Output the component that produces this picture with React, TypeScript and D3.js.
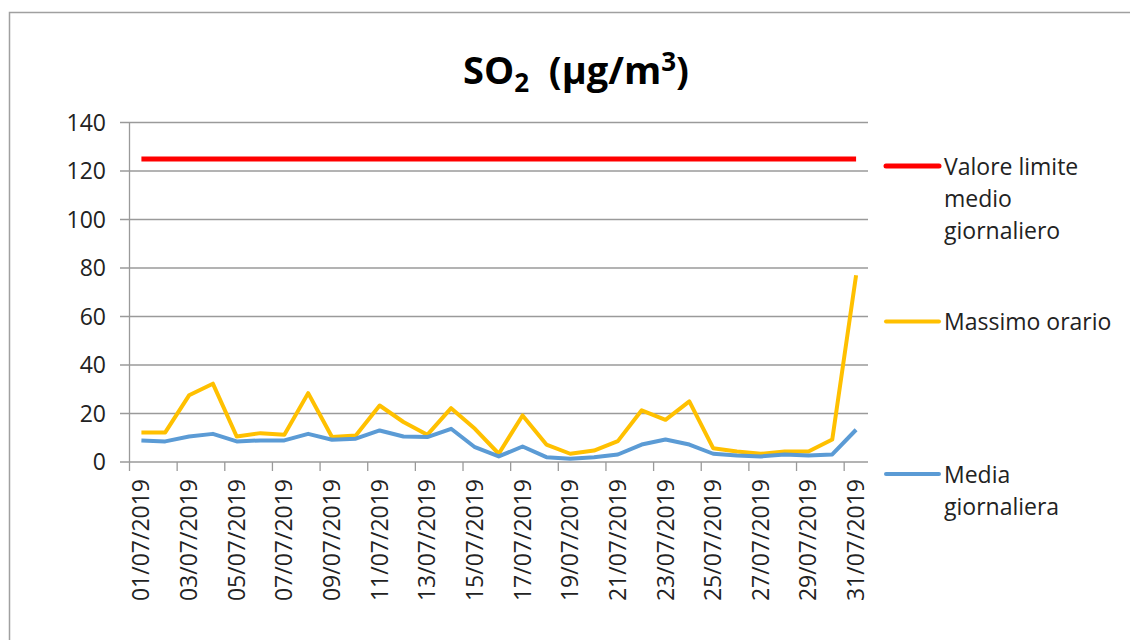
import React from "react";
import * as d3 from "d3";

const dates: string[] = Array.from({ length: 31 }, (_, i) => `${String(i + 1).padStart(2, "0")}/07/2019`);

const massimoOrario: number[] = [
  12.2, 12.2, 27.5, 32.3, 10.5, 11.9, 11.2, 28.4, 10.3, 10.9, 23.3, 16.5, 11.2, 22.2, 13.7, 3.4,
  19.2, 7.2, 3.4, 4.7, 8.6, 21.3, 17.4, 25.0, 5.7, 4.3, 3.4, 4.3, 4.3, 9.3, 77.0,
];

const mediaGiornaliera: number[] = [
  8.9, 8.5, 10.5, 11.6, 8.5, 8.9, 8.9, 11.6, 9.2, 9.6, 13.0, 10.5, 10.3, 13.7, 6.1, 2.3,
  6.4, 2.0, 1.3, 2.0, 3.1, 7.2, 9.3, 7.2, 3.4, 2.7, 2.3, 3.1, 2.7, 3.1, 13.3,
];

const valoreLimite: number[] = dates.map(() => 125);

const yTicks: number[] = [0, 20, 40, 60, 80, 100, 120, 140];

const FONT = "'Open Sans', 'Liberation Sans', sans-serif";

export default function App() {
  const W = 1130;
  const H = 640;
  const left = 129.5;
  const right = 868;
  const top = 122.5;
  const bottom = 462;

  const x = d3.scaleBand<string>().domain(dates).range([left, right]).padding(0);
  const y = d3.scaleLinear().domain([0, 140]).range([bottom, top]);
  const cx = (i: number) => (x(dates[i]) as number) + x.bandwidth() / 2;

  const line = d3
    .line<number>()
    .x((_, i) => cx(i))
    .y((d) => y(d));

  const tickIdx = d3.range(0, 32, 2);

  const legend = [
    { color: "#ff0000", width: 5, ly: 166, lines: ["Valore limite", "medio", "giornaliero"], ty: 175 },
    { color: "#ffc000", width: 4, ly: 321.5, lines: ["Massimo orario"], ty: 330 },
    { color: "#5b9bd5", width: 4, ly: 474, lines: ["Media", "giornaliera"], ty: 483 },
  ];

  return (
    <svg
      width={W}
      height={H}
      style={{ position: "absolute", left: 0, top: 0, background: "#fff" }}
      fontFamily={FONT}
    >
      <rect x={0} y={0} width={W} height={H} fill="#fff" />
      <path d={`M9.5,${H + 5}V12.5H${W + 5}`} fill="none" stroke="#a0a0a0" strokeWidth={1.5} />

      <text x={576} y={84} textAnchor="middle" fontSize={38} fontWeight="bold" fill="#000">
        SO
        <tspan fontSize={26} dy={8}>2</tspan>
        <tspan dy={-8}>{"\u00a0\u00a0(µg/m"}</tspan>
        <tspan fontSize={26} dy={-13}>3</tspan>
        <tspan dy={13}>)</tspan>
      </text>

      {/* gridlines */}
      {yTicks.map((t) => (
        <g key={t}>
          <line x1={120} x2={right} y1={y(t)} y2={y(t)} stroke="#9a9a9a" strokeWidth={1.3} />
          <text x={106} y={y(t) + 8} textAnchor="end" fontSize={23} fill="#222">
            {t}
          </text>
        </g>
      ))}
      {/* y axis */}
      <line x1={left} x2={left} y1={top} y2={bottom} stroke="#9a9a9a" strokeWidth={1.3} />
      {/* x ticks */}
      {tickIdx.map((i) => {
        const xx = i < 31 ? (x(dates[i]) as number) : right;
        return <line key={i} x1={xx} x2={xx} y1={bottom} y2={bottom + 9} stroke="#9a9a9a" strokeWidth={1.3} />;
      })}
      {/* x labels */}
      {dates.map((d, i) =>
        i % 2 === 0 ? (
          <text
            key={d}
            transform={`translate(${cx(i) + 8},${479}) rotate(-90)`}
            textAnchor="end"
            fontSize={23}
            fill="#222"
          >
            {d}
          </text>
        ) : null
      )}

      <path d={line(valoreLimite) || ""} fill="none" stroke="#ff0000" strokeWidth={5} strokeLinejoin="round" />
      <path d={line(massimoOrario) || ""} fill="none" stroke="#ffc000" strokeWidth={4} strokeLinejoin="round" />
      <path d={line(mediaGiornaliera) || ""} fill="none" stroke="#5b9bd5" strokeWidth={4} strokeLinejoin="round" />

      {legend.map((l) => (
        <g key={l.lines[0]}>
          <line x1={886} x2={939} y1={l.ly} y2={l.ly} stroke={l.color} strokeWidth={l.width} strokeLinecap="round" />
          {l.lines.map((s, k) => (
            <text key={s} x={944} y={l.ty + k * 32} fontSize={23} fill="#222">
              {s}
            </text>
          ))}
        </g>
      ))}
    </svg>
  );
}
